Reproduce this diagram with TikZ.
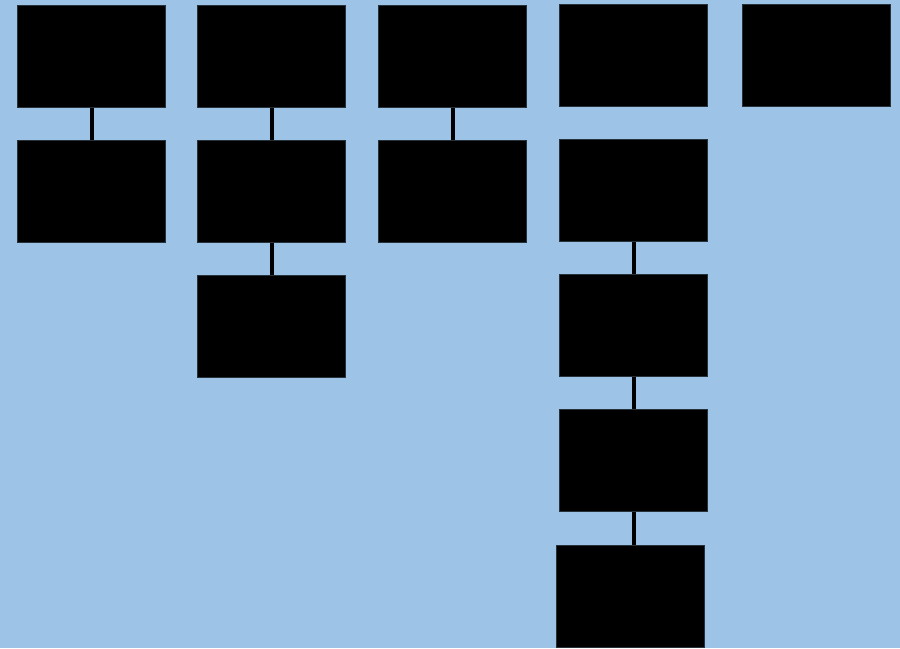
\documentclass[tikz,border=0pt]{standalone}
\usepackage{tikz}
\usetikzlibrary{positioning}
\definecolor{SkyFill}{RGB}{157,195,230}
\colorlet{BlockLine}{black!75!SkyFill}

\begin{document}
\begin{tikzpicture}[
    x=0.1mm, y=-0.1mm,
    block/.style={
        rectangle, draw=BlockLine, fill=black, line width=0.3pt,
        minimum width=14.8mm, minimum height=10.2mm, inner sep=0pt
    },
    link/.style={line width=0.4mm, black},
    node distance=3.2mm and 3.2mm
]
\useasboundingbox (0,0) rectangle (900,648);
\fill[SkyFill] (0,0) rectangle (900,648);

% ===================================================================
% COLUMN 1
% ===================================================================
\node[block, anchor=north west] (a1) at (17,5) {};
\node[block, below=of a1] (a2) {};
\draw[link] (a1) -- (a2);

% ===================================================================
% COLUMN 2
% ===================================================================
\node[block, anchor=north west] (b1) at (197,5) {};
\node[block, below=of b1] (b2) {};
\node[block, below=of b2] (b3) {};
\draw[link] (b1) -- (b2);
\draw[link] (b2) -- (b3);

% ===================================================================
% COLUMN 3
% ===================================================================
\node[block, anchor=north west] (c1) at (378,5) {};
\node[block, below=of c1] (c2) {};
\draw[link] (c1) -- (c2);

% ===================================================================
% COLUMN 4
% ===================================================================
\node[block, anchor=north west] (d1) at (559,4) {};
\node[block, below=of d1] (d2) {};
\node[block, below=of d2] (d3) {};
\node[block, below=of d3] (d4) {};
\node[block, below=3.3mm of d4, xshift=-0.35mm] (d5) {};
\draw[link] (d2) -- (d3);
\draw[link] (d3) -- (d4);
\draw[link] (d4.south) -- (d4.south |- d5.north);

% ===================================================================
% COLUMN 5
% ===================================================================
\node[block, anchor=north west] (e1) at (742,4) {};

\end{tikzpicture}
\end{document}
